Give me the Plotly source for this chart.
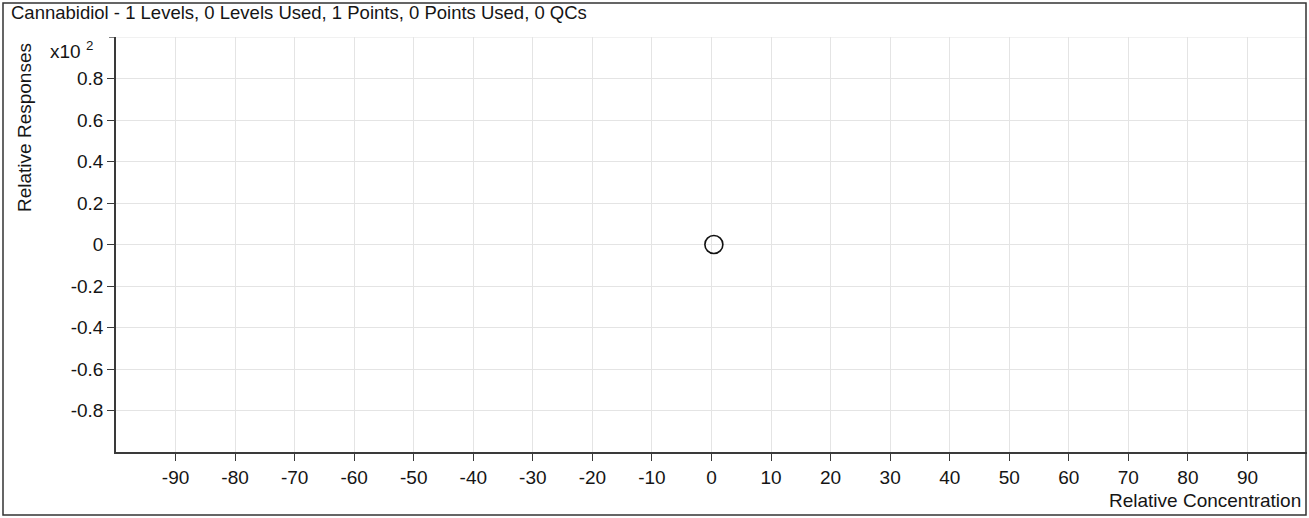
import plotly.graph_objects as go

# Data
conc = [0.4]
resp = [0.0]

x_ticks = [-90, -80, -70, -60, -50, -40, -30, -20, -10, 0, 10, 20, 30, 40, 50, 60, 70, 80, 90]
y_ticks = [0.8, 0.6, 0.4, 0.2, 0, -0.2, -0.4, -0.6, -0.8]

title_text = 'Cannabidiol - 1 Levels, 0 Levels Used, 1 Points, 0 Points Used, 0 QCs'

W, H = 1309, 518
ml, mr, mt, mb = 116, 2, 37, 66
pw, ph = W - ml - mr, H - mt - mb


def px(x):
    return (x - ml) / pw


def py(y):
    return (H - mb - y) / ph


font = 'Liberation Sans, Arial, sans-serif'
axis_col = '#3a3a3a'
grid_col = '#e4e4e4'
txt_col = '#151515'

fig = go.Figure()
fig.add_scatter(x=conc, y=resp, mode='markers',
                marker=dict(symbol='circle-open', size=18, color='#111111',
                            line=dict(width=1.6)),
                hoverinfo='skip')

fig.update_xaxes(
    range=[-100, 100],
    tickvals=x_ticks, ticktext=[str(v) for v in x_ticks],
    ticks='outside', ticklen=7, tickwidth=1.3, tickcolor=axis_col,
    showline=True, linecolor=axis_col, linewidth=1.5,
    showgrid=True, gridcolor=grid_col, gridwidth=1, zeroline=False,
    tickfont=dict(family=font, size=19, color=txt_col),
)
fig.update_yaxes(
    range=[-1, 1],
    tickvals=y_ticks, ticktext=[f'{v:g}' for v in y_ticks],
    ticks='outside', ticklen=7, tickwidth=1.3, tickcolor=axis_col,
    showline=True, linecolor=axis_col, linewidth=1.5,
    showgrid=True, gridcolor=grid_col, gridwidth=1, zeroline=False,
    tickfont=dict(family=font, size=19, color=txt_col),
)

# unlabelled end tick at the top of the y axis, and the top grid line
fig.add_shape(type='line', xref='paper', yref='y', x0=px(109), x1=0, y0=1, y1=1,
              line=dict(color=axis_col, width=1.3))
fig.add_shape(type='line', xref='paper', yref='y', x0=0, x1=1, y0=1, y1=1,
              line=dict(color=grid_col, width=1), layer='below')

# Outer frame round the whole chart
fig.add_shape(type='rect', xref='paper', yref='paper',
              x0=px(3), x1=px(1306), y0=py(515), y1=py(3),
              line=dict(color='#333', width=1.5), layer='above')

annos = [
    dict(x=px(9), y=py(13), text=title_text, xanchor='left', yanchor='middle', size=18.5),
    dict(x=px(48), y=py(50), text='x10 <sup>2</sup>', xanchor='left', yanchor='middle', size=19),
    dict(x=px(1303), y=py(500), text='Relative Concentration', xanchor='right', yanchor='middle', size=19),
]
for a in annos:
    fig.add_annotation(x=a['x'], y=a['y'], xref='paper', yref='paper', text=a['text'],
                       showarrow=False, xanchor=a['xanchor'], yanchor=a['yanchor'],
                       font=dict(family=font, size=a['size'], color=txt_col))
fig.add_annotation(x=px(24), y=py(128), xref='paper', yref='paper', text='Relative Responses',
                   showarrow=False, textangle=-90, xanchor='center', yanchor='middle',
                   font=dict(family=font, size=19, color=txt_col))

fig.update_layout(
    width=W, height=H,
    margin=dict(l=ml, r=mr, t=mt, b=mb),
    plot_bgcolor='white', paper_bgcolor='white',
    showlegend=False,
)

# drop the default page margin so the chart sits at the window's corner
fig.write_html('out.html', config={'displayModeBar': False},
               post_script="document.body.style.margin='0';document.body.style.overflow='hidden';")
